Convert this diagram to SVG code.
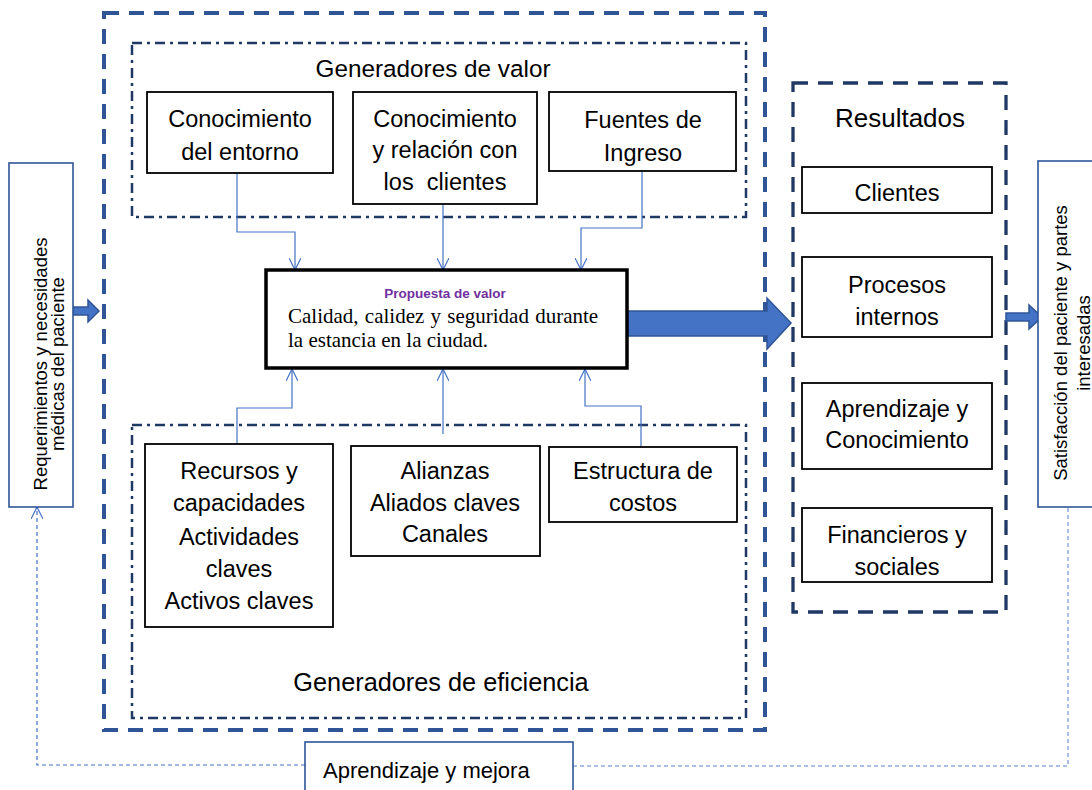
<svg xmlns="http://www.w3.org/2000/svg" width="1092" height="790" viewBox="0 0 1092 790">
<defs>
<style>
.t{font-family:"Liberation Sans",Arial,sans-serif;font-size:23.5px;fill:#000;text-anchor:middle}
.v{font-family:"Liberation Sans",Arial,sans-serif;font-size:18.5px;fill:#000;text-anchor:middle}
.node{fill:#fff;stroke:#000;stroke-width:1.8}
.side{fill:#fff;stroke:#2F5597;stroke-width:1.6}
.dd{fill:none;stroke:#1F3864;stroke-width:2.5;stroke-dasharray:10 5 3 5}
.outer{fill:none;stroke:#2F5597;stroke-width:4;stroke-dasharray:15 10}
.res{fill:none;stroke:#1F3864;stroke-width:3.3;stroke-dasharray:15 10}
.con{fill:none;stroke:#4472C4;stroke-width:1.2}
.blk{fill:#4472C4;stroke:#2F5597;stroke-width:1.5}
.serif{font-family:"Liberation Serif","Times New Roman",serif;font-size:21px;fill:#000}
</style>
<marker id="ah" viewBox="0 0 12 12" refX="12" refY="6" markerWidth="12" markerHeight="12" markerUnits="userSpaceOnUse" orient="auto">
<path d="M0,0 L12,6 L0,12" fill="none" stroke="#4472C4" stroke-width="1.2"/>
</marker>
</defs>
<rect width="1092" height="790" fill="#fff"/>

<g id="containers">
<rect class="outer" x="104" y="13" width="661" height="717"/>
<rect class="dd" x="132" y="43" width="614" height="174"/>
<rect class="dd" x="132" y="425" width="614" height="293"/>
<rect class="res" x="793" y="83" width="213" height="529"/>
<text class="t" x="433" y="77" style="font-size:24.3px">Generadores de valor</text>
<text class="t" x="441" y="691" style="font-size:25.3px">Generadores de eficiencia</text>
<text class="t" x="900" y="127" style="font-size:26px">Resultados</text>
</g>

<g id="connectors">
<polyline class="con" points="237,173 237,232 295,232 295,270" marker-end="url(#ah)"/>
<polyline class="con" points="443,204 443,270" marker-end="url(#ah)"/>
<polyline class="con" points="642,171 642,228 581,228 581,270" marker-end="url(#ah)"/>
<polyline class="con" points="237,444 237,408 292,408 292,369" marker-end="url(#ah)"/>
<polyline class="con" points="443,434 443,369" marker-end="url(#ah)"/>
<polyline class="con" points="641,447 641,406 585,406 585,369" marker-end="url(#ah)"/>
<polyline class="con" points="305,765 37,765 37,507" stroke-dasharray="4 3" marker-end="url(#ah)"/>
<polyline points="573,766 1068,766 1068,507" fill="none" stroke="#8FAADC" stroke-width="1.5" stroke-dasharray="4 3"/>
<polygon class="blk" points="73,307 88,307 88,300 99,311 88,322 88,315 73,315"/>
<polygon class="blk" points="627,311 767,311 767,298 791,323 767,349 767,336 627,336"/>
<polygon class="blk" points="1006,313 1029,313 1029,305 1042,317 1029,329 1029,321 1006,321"/>
</g>

<g id="req">
<rect class="side" x="9" y="163" width="64" height="344"/>
<text class="v" transform="translate(41,364) rotate(-90)"><tspan x="0" y="6">Requerimientos y necesidades</tspan><tspan x="0" y="23">médicas del paciente</tspan></text>
</g>

<g id="sat">
<rect class="side" x="1038" y="161" width="60" height="346"/>
<text class="v" transform="translate(1062,343) rotate(-90)"><tspan x="0" y="5">Satisfacción del paciente y partes</tspan><tspan x="0" y="28">interesadas</tspan></text>
</g>

<g id="n-entorno">
<rect class="node" x="147" y="92" width="186" height="81"/>
<text class="t" x="240" y="127">Conocimiento</text>
<text class="t" x="240" y="160">del entorno</text>
</g>
<g id="n-clientes">
<rect class="node" x="353" y="92" width="184" height="112"/>
<text class="t" x="445" y="127">Conocimiento</text>
<text class="t" x="445" y="158">y relación con</text>
<text class="t" x="445" y="190" style="white-space:pre">los  clientes</text>
</g>
<g id="n-fuentes">
<rect class="node" x="549" y="92" width="187" height="79"/>
<text class="t" x="643" y="128">Fuentes de</text>
<text class="t" x="643" y="161">Ingreso</text>
</g>

<g id="n-propuesta">
<rect x="266" y="270" width="361" height="98" fill="#fff" stroke="#000" stroke-width="3.5"/>
<text x="445" y="298" style="font-family:'Liberation Sans',Arial,sans-serif;font-size:13.5px;font-weight:bold;fill:#7030A0;text-anchor:middle">Propuesta de valor</text>
<text class="serif" x="288" y="323" style="word-spacing:1px">Calidad, calidez y seguridad durante</text>
<text class="serif" x="288" y="347">la estancia en la ciudad.</text>
</g>

<g id="n-recursos">
<rect class="node" x="145" y="444" width="188" height="183"/>
<text class="t" x="239" y="479">Recursos y</text>
<text class="t" x="239" y="511">capacidades</text>
<text class="t" x="239" y="545">Actividades</text>
<text class="t" x="239" y="577">claves</text>
<text class="t" x="239" y="609">Activos claves</text>
</g>
<g id="n-alianzas">
<rect class="node" x="351" y="446" width="189" height="110"/>
<text class="t" x="445" y="479">Alianzas</text>
<text class="t" x="445" y="511">Aliados claves</text>
<text class="t" x="445" y="542">Canales</text>
</g>
<g id="n-costos">
<rect class="node" x="549" y="447" width="188" height="75"/>
<text class="t" x="643" y="479">Estructura de</text>
<text class="t" x="643" y="511">costos</text>
</g>

<g id="r-clientes">
<rect class="node" x="802" y="167" width="190" height="46"/>
<text class="t" x="897" y="201">Clientes</text>
</g>
<g id="r-procesos">
<rect class="node" x="802" y="257" width="190" height="80"/>
<text class="t" x="897" y="293">Procesos</text>
<text class="t" x="897" y="325">internos</text>
</g>
<g id="r-aprendizaje">
<rect class="node" x="802" y="383" width="190" height="86"/>
<text class="t" x="897" y="417">Aprendizaje y</text>
<text class="t" x="897" y="448">Conocimiento</text>
</g>
<g id="r-financieros">
<rect class="node" x="802" y="508" width="190" height="74"/>
<text class="t" x="897" y="543">Financieros y</text>
<text class="t" x="897" y="575">sociales</text>
</g>

<g id="n-mejora">
<rect class="side" x="305" y="742" width="268" height="52"/>
<text class="t" x="323" y="778" style="text-anchor:start;font-size:22px">Aprendizaje y mejora</text>
</g>
</svg>
